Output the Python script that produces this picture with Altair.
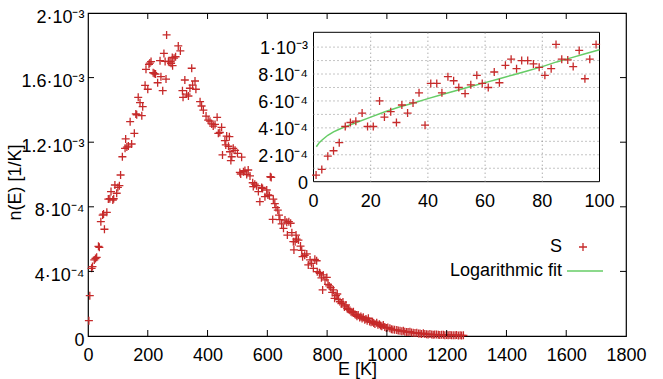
import altair as alt
import pandas as pd

# ---------------- data (n values in units of 1e-3 1/K) ----------------
E_main = [3, 6, 12, 15, 21, 25, 29, 35, 38, 43, 49, 52, 55, 63, 68, 73, 77, 83, 86, 90,
          96, 100, 105, 109, 115, 124, 126, 130, 135, 141, 146, 155, 160, 163, 168, 174, 180, 183, 191, 194,
          200, 204, 207, 211, 218, 222, 226, 233, 241, 244, 250, 254, 258, 261, 263, 269, 274, 278, 282, 283,
          288, 293, 302, 309, 316, 318, 324, 330, 336, 341, 347, 350, 358, 361, 375, 380, 386, 395, 402, 408,
          414, 419, 425, 432, 436, 441, 447, 450, 458, 461, 464, 470, 473, 475, 478, 481, 486, 492, 500, 508,
          511, 514, 520, 525, 531, 536, 542, 551, 553, 558, 564, 570, 575, 581, 584, 592, 598, 602, 607, 610,
          613, 618, 620, 625, 629, 635, 639, 642, 648, 654, 659, 665, 667, 672, 678, 682, 687, 689, 693, 696,
          698, 704, 711, 715, 718, 725, 732, 737, 743, 748, 754, 759, 765, 767, 774, 776, 781, 785, 787, 793,
          799, 803, 807, 812, 817, 821, 825, 830, 834, 838, 843, 848, 853, 858, 863, 867, 871, 876, 880, 884,
          888, 893, 897, 900, 904, 909, 913, 917, 921, 926, 930, 934, 938, 942, 947, 952, 956, 960, 966, 970,
          975, 979, 983, 988, 993, 998, 1003, 1010, 1015, 1020, 1026, 1033, 1038, 1044, 1050, 1055, 1060, 1066, 1071, 1077,
          1082, 1088, 1094, 1100, 1106, 1111, 1116, 1122, 1127, 1133, 1138, 1144, 1150, 1155, 1160, 1166, 1172, 1177, 1183, 1189,
          1194, 1200, 1205, 1211, 1216, 1222, 1228, 1233, 1239, 1245, 1250, 1256]
N_main = [0.095, 0.250, 0.419, 0.430, 0.471, 0.480, 0.487, 0.555, 0.549, 0.708, 0.749, 0.755, 0.661, 0.766, 0.848, 0.850, 0.894, 0.842, 0.850, 0.935,
          0.884, 0.920, 0.931, 0.997, 1.110, 1.162, 1.220, 1.170, 1.176, 1.327, 1.189, 1.255, 1.375, 1.370, 1.478, 1.445, 1.364, 1.420, 1.552, 1.651,
          1.528, 1.682, 1.690, 1.699, 1.630, 1.625, 1.622, 1.568, 1.705, 1.606, 1.519, 1.750, 1.700, 1.591, 1.864, 1.699, 1.700, 1.689, 1.725, 1.674,
          1.720, 1.729, 1.796, 1.765, 1.519, 1.478, 1.585, 1.498, 1.486, 1.534, 1.658, 1.554, 1.579, 1.528, 1.451, 1.424, 1.399, 1.362, 1.337, 1.330,
          1.313, 1.300, 1.310, 1.354, 1.255, 1.260, 1.292, 1.121, 1.210, 1.183, 1.238, 1.175, 1.234, 1.141, 1.086, 1.110, 1.162, 1.150, 1.131, 1.013,
          1.003, 1.107, 1.017, 1.024, 1.000, 1.028, 0.991, 0.949, 0.925, 0.940, 0.931, 0.894, 0.832, 0.920, 0.914, 0.863, 0.904, 0.873, 0.870, 0.986,
          0.982, 0.722, 0.847, 0.820, 0.795, 0.780, 0.749, 0.720, 0.694, 0.667, 0.718, 0.705, 0.625, 0.708, 0.698, 0.640, 0.584, 0.533, 0.584, 0.625,
          0.600, 0.594, 0.557, 0.530, 0.491, 0.500, 0.508, 0.440, 0.471, 0.450, 0.419, 0.475, 0.466, 0.398, 0.392, 0.388, 0.360, 0.285, 0.378, 0.347,
          0.363, 0.320, 0.310, 0.300, 0.270, 0.285, 0.233, 0.250, 0.260, 0.225, 0.212, 0.200, 0.210, 0.180, 0.192, 0.170, 0.165, 0.160, 0.150, 0.145,
          0.150, 0.135, 0.130, 0.122, 0.130, 0.115, 0.120, 0.108, 0.116, 0.100, 0.105, 0.095, 0.110, 0.090, 0.085, 0.089, 0.080, 0.075, 0.082, 0.070,
          0.072, 0.065, 0.060, 0.068, 0.055, 0.050, 0.052, 0.048, 0.042, 0.040, 0.038, 0.037, 0.034, 0.032, 0.030, 0.033, 0.027, 0.025, 0.024, 0.027,
          0.022, 0.020, 0.018, 0.020, 0.016, 0.015, 0.013, 0.017, 0.012, 0.011, 0.010, 0.012, 0.009, 0.008, 0.009, 0.010, 0.007, 0.006, 0.007, 0.008,
          0.005, 0.006, 0.005, 0.006, 0.004, 0.005, 0.004, 0.006, 0.003, 0.004, 0.003, 0.004]

E_inset = [0.9, 2.9, 5.0, 7.0, 9.0, 11.1, 12.9, 14.8, 17.0, 18.9, 20.9, 23.1, 24.8, 27.0, 29.0, 30.9, 32.9,
           34.8, 36.9, 39.0, 41.0, 43.1, 44.9, 47.0, 49.0, 50.8, 53.0, 55.0, 57.1, 59.0, 61.1, 63.2, 65.0,
           67.1, 69.1, 71.0, 72.8, 74.9, 76.9, 78.9, 80.9, 83.1, 84.8, 86.8, 88.9, 90.8, 92.9, 94.9, 96.6, 98.8]
N_inset = [0.049, 0.091, 0.190, 0.230, 0.290, 0.410, 0.440, 0.450, 0.510, 0.410, 0.410, 0.600, 0.480, 0.520, 0.440, 0.570, 0.510,
           0.585, 0.660, 0.420, 0.730, 0.730, 0.660, 0.780, 0.750, 0.700, 0.655, 0.720, 0.790, 0.730, 0.700, 0.815, 0.735,
           0.865, 0.910, 0.840, 0.900, 0.900, 0.875, 0.850, 0.790, 0.840, 1.020, 0.910, 0.905, 0.855, 0.975, 0.765, 0.910, 1.020]

E_fit = [1, 2, 3, 5, 7, 9, 11, 15, 20, 25, 30, 35, 40, 45, 50, 55, 60, 65, 70, 75, 80, 85, 90, 95, 100]
N_fit = [0.260, 0.290, 0.310, 0.345, 0.370, 0.390, 0.407, 0.440, 0.480, 0.520, 0.555, 0.585, 0.617, 0.648, 0.678,
         0.707, 0.736, 0.765, 0.795, 0.825, 0.855, 0.890, 0.920, 0.950, 0.980]

x_main_ticks = [0, 200, 400, 600, 800, 1000, 1200, 1400, 1600, 1800]
x_inner_ticks = [200, 400, 600, 800, 1000, 1200, 1400, 1600]
y_main_ticks = [0, 0.0004, 0.0008, 0.0012, 0.0016, 0.002]
y_main_labels = ["0", "4·10⁻⁴", "8·10⁻⁴", "1.2·10⁻³", "1.6·10⁻³", "2·10⁻³"]
y_inner_ticks = [0.0004, 0.0008, 0.0012, 0.0016]

inset_x_ticks = [0, 20, 40, 60, 80, 100]
inset_x_labels = ["0", "20", "40", "60", "80", "100"]
inset_y_ticks = [0, 0.0002, 0.0004, 0.0006, 0.0008, 0.001]
inset_y_labels = ["0", "2·10⁻⁴", "4·10⁻⁴", "6·10⁻⁴", "8·10⁻⁴", "1·10⁻³"]
inset_hgrid = [0.0001, 0.0002, 0.0003, 0.0004, 0.0005, 0.0006, 0.0007, 0.0008, 0.0009, 0.001]
inset_vgrid = [20, 40, 60, 80]
inset_x_domain = [0, 100]
inset_y_domain = [0, 0.00111]

legend_labels = ["S", "Logarithmic fit"]

# ---------------- styling ----------------
W, H = 538, 323
RED = "#c62a2a"
GREEN = "#66cc66"
FONT = "Liberation Sans"
PLUS = "M-1,0L1,0M0,-1L0,1"

df_main = pd.DataFrame({"E": E_main, "n": [v * 1e-3 for v in N_main]})
df_inset = pd.DataFrame({"E": E_inset, "n": [v * 1e-3 for v in N_inset]})
df_fit = pd.DataFrame({"E": E_fit, "n": [v * 1e-3 for v in N_fit]})

xs = alt.Scale(domain=[0, 1800], nice=False, zero=False)
ys = alt.Scale(domain=[0, 0.002], nice=False, zero=False)

lbl_expr = "[" + ",".join("'" + s + "'" for s in y_main_labels) + "][round(datum.value/0.0004)]"

x_axis = alt.Axis(values=x_main_ticks, format="d", ticks=False, domain=False, grid=False,
                  labelFont=FONT, labelFontSize=18, labelColor="black", labelPadding=10,
                  labelFlush=False,
                  title="E [K]", titleFont=FONT, titleFontSize=18, titleFontWeight="normal",
                  titleColor="black", titleX=W / 2, titleY=38, titleBaseline="alphabetic",
                  titleAlign="center")
y_axis = alt.Axis(values=y_main_ticks, ticks=False, domain=False, grid=False, labelFont=FONT,
                  labelFontSize=18, labelColor="black", labelPadding=4, labelExpr=lbl_expr,
                  labelFlush=False, labelOffset=4,
                  title="n(E) [1/K]", titleFont=FONT, titleFontSize=18, titleFontWeight="normal",
                  titleColor="black", titleAngle=270, titleX=-73, titleY=169, titleAlign="center",
                  titleBaseline="middle")

pts_main = alt.Chart(df_main).mark_point(shape=PLUS, size=64, filled=False, strokeWidth=1.3,
                                         color=RED, opacity=1).encode(
    x=alt.X("E:Q", scale=xs, axis=x_axis),
    y=alt.Y("n:Q", scale=ys, axis=y_axis),
)

df_xt = pd.DataFrame({"E": x_inner_ticks})
df_yt = pd.DataFrame({"n": y_inner_ticks})
tick_b = alt.Chart(df_xt).mark_rule(color="black").encode(
    x=alt.X("E:Q", scale=xs, axis=x_axis), y=alt.value(H), y2=alt.value(H - 6))
tick_t = alt.Chart(df_xt).mark_rule(color="black").encode(
    x=alt.X("E:Q", scale=xs, axis=x_axis), y=alt.value(0), y2=alt.value(6))
tick_l = alt.Chart(df_yt).mark_rule(color="black").encode(
    y=alt.Y("n:Q", scale=ys, axis=y_axis), x=alt.value(0), x2=alt.value(6))
tick_r = alt.Chart(df_yt).mark_rule(color="black").encode(
    y=alt.Y("n:Q", scale=ys, axis=y_axis), x=alt.value(W), x2=alt.value(W - 6))

main = alt.layer(pts_main, tick_b, tick_t, tick_l, tick_r)

# ---------------- inset ----------------
xi = alt.Scale(domain=inset_x_domain, range=[225.5, 511.5], nice=False, zero=False)
yi = alt.Scale(domain=inset_y_domain, range=[168.7, 19.3], nice=False, zero=False)

df_box = pd.DataFrame({"x0": [inset_x_domain[0]], "x1": [inset_x_domain[1]],
                       "y0": [inset_y_domain[0]], "y1": [inset_y_domain[1]]})
box = alt.Chart(df_box).mark_rect(fill="white", stroke="black", strokeWidth=1).encode(
    x=alt.X("x0:Q", scale=xi, axis=None), x2="x1:Q",
    y=alt.Y("y0:Q", scale=yi, axis=None), y2="y1:Q")

df_hg = pd.DataFrame({"n": inset_hgrid, "x0": inset_x_domain[0], "x1": inset_x_domain[1]})
hgrid = alt.Chart(df_hg).mark_rule(color="#8a8a8a", strokeDash=[1, 3], strokeWidth=1).encode(
    y=alt.Y("n:Q", scale=yi, axis=None), x=alt.X("x0:Q", scale=xi, axis=None), x2="x1:Q")
df_vg = pd.DataFrame({"E": inset_vgrid, "y0": inset_y_domain[0], "y1": inset_y_domain[1]})
vgrid = alt.Chart(df_vg).mark_rule(color="#8a8a8a", strokeDash=[1, 3], strokeWidth=1).encode(
    x=alt.X("E:Q", scale=xi, axis=None), y=alt.Y("y0:Q", scale=yi, axis=None), y2="y1:Q")

pts_in = alt.Chart(df_inset).mark_point(shape=PLUS, size=64, filled=False, strokeWidth=1.3,
                                        color=RED, opacity=1).encode(
    x=alt.X("E:Q", scale=xi, axis=None), y=alt.Y("n:Q", scale=yi, axis=None))
fit = alt.Chart(df_fit).mark_line(color=GREEN, strokeWidth=1.5).encode(
    x=alt.X("E:Q", scale=xi, axis=None), y=alt.Y("n:Q", scale=yi, axis=None))

df_ixl = pd.DataFrame({"v": inset_x_ticks, "t": inset_x_labels})
ixl = alt.Chart(df_ixl).mark_text(font=FONT, fontSize=18, color="black", baseline="middle",
                                  align="center").encode(
    x=alt.X("v:Q", scale=xi, axis=None), y=alt.value(189), text="t:N")
df_iyl = pd.DataFrame({"v": inset_y_ticks, "t": inset_y_labels})
iyl = alt.Chart(df_iyl).mark_text(font=FONT, fontSize=18, color="black", baseline="middle",
                                  align="right", dy=2).encode(
    y=alt.Y("v:Q", scale=yi, axis=None), x=alt.value(220), text="t:N")

inset = alt.layer(box, hgrid, vgrid, fit, pts_in, ixl, iyl)

# ---------------- legend ----------------
leg_s = alt.Chart(pd.DataFrame({"t": [legend_labels[0]]})).mark_text(
    font=FONT, fontSize=18, color="black", align="right", baseline="middle").encode(
    x=alt.value(474), y=alt.value(234), text="t:N")
leg_sm = alt.Chart(pd.DataFrame({"t": [legend_labels[0]]})).mark_point(
    shape=PLUS, size=64, filled=False, strokeWidth=1.3, color=RED, opacity=1).encode(
    x=alt.value(495), y=alt.value(234))
leg_f = alt.Chart(pd.DataFrame({"t": [legend_labels[1]]})).mark_text(
    font=FONT, fontSize=18, color="black", align="right", baseline="middle").encode(
    x=alt.value(474), y=alt.value(258), text="t:N")
leg_fl = alt.Chart(pd.DataFrame({"t": [legend_labels[1]]})).mark_rule(
    color=GREEN, strokeWidth=1.5).encode(x=alt.value(479), x2=alt.value(515), y=alt.value(258))

chart = alt.layer(main, inset, leg_s, leg_sm, leg_f, leg_fl).resolve_scale(
    x="independent", y="independent"
).properties(
    width=W, height=H,
    padding={"left": 88, "top": 13, "right": 37, "bottom": 43},
    autosize=alt.AutoSizeParams(type="none"),
    background="white",
).configure_view(stroke="black", strokeWidth=1.2)

chart.save("out.html", embed_options={"renderer": "svg", "actions": False})
